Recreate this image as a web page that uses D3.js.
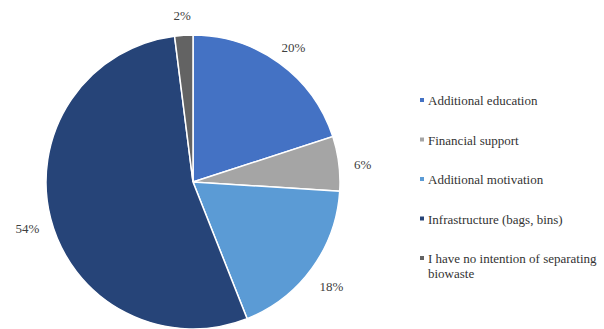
<!DOCTYPE html>
<html>
<head>
<meta charset="utf-8">
<script src="https://cdn.jsdelivr.net/npm/d3@7"></script>
<style>
  html, body { margin: 0; padding: 0; background: #fff; }
  svg { display: block; }
</style>
</head>
<body>
<svg id="chart" width="604" height="329"></svg>
<script>
const categories = ["Additional education", "Financial support", "Additional motivation", "Infrastructure (bags, bins)", "I have no intention of separating biowaste"];
const legendLines = [["Additional education"], ["Financial support"], ["Additional motivation"], ["Infrastructure (bags, bins)"], ["I have no intention of separating", "biowaste"]];
const values = [20, 6, 18, 54, 2];
const valueLabels = ["20%", "6%", "18%", "54%", "2%"];
const colors = ["#4472C4", "#A5A5A5", "#5B9BD5", "#264478", "#636363"];

const svg = d3.select("#chart");
const cx = 193, cy = 182, r = 147, labelR = 171;
const font = "'Liberation Serif', 'Times New Roman', serif";

const pie = d3.pie().sort(null).value(d => d)(values);
const arc = d3.arc().innerRadius(0).outerRadius(r);
const labelArc = d3.arc().innerRadius(labelR).outerRadius(labelR);
const color = d3.scaleOrdinal().domain(categories).range(colors);

const g = svg.append("g").attr("transform", `translate(${cx},${cy})`);
g.selectAll("path").data(pie).join("path")
  .attr("d", arc)
  .attr("fill", (d, i) => color(categories[i]))
  .attr("stroke", "#fff")
  .attr("stroke-width", 1.5);

g.selectAll("text").data(pie).join("text")
  .attr("transform", d => {
    const [x, y] = labelArc.centroid(d);
    return `translate(${x},${y + 4})`;
  })
  .attr("text-anchor", "middle")
  .attr("dominant-baseline", "central")
  .attr("font-family", font)
  .attr("font-size", 13)
  .attr("fill", "#404040")
  .text((d, i) => valueLabels[i]);

// legend
const legendY = d3.scalePoint().domain(categories).range([100, 258]);
const lg = svg.append("g");
categories.forEach((c, i) => {
  const y = legendY(c);
  lg.append("rect")
    .attr("x", 420).attr("y", y - 2)
    .attr("width", 4).attr("height", 4)
    .attr("fill", color(c));
  const t = lg.append("text")
    .attr("x", 428).attr("y", y)
    .attr("dominant-baseline", "central")
    .attr("font-family", font)
    .attr("font-size", 13)
    .attr("fill", "#333");
  legendLines[i].forEach((line, j) => {
    t.append("tspan").attr("x", 428).attr("dy", j === 0 ? 0 : 15).text(line);
  });
});
</script>
</body>
</html>
